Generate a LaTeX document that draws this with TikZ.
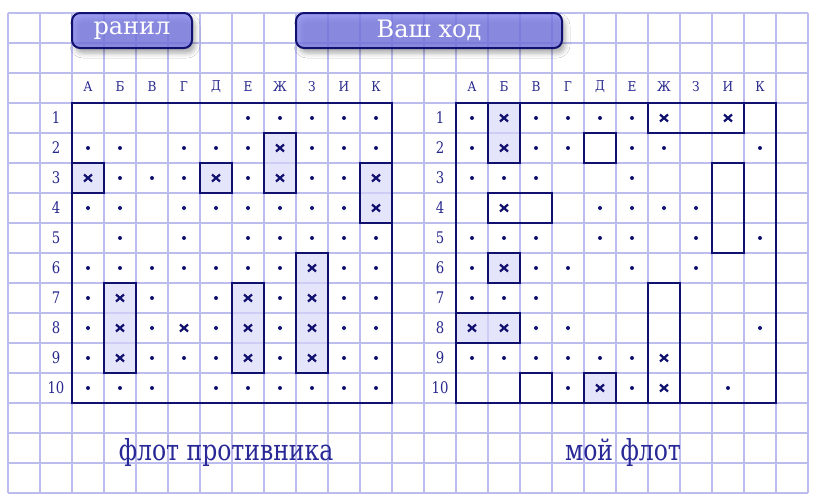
\documentclass[tikz,border=0pt]{standalone}
\usepackage{fontspec}
\setmainfont{DejaVu Serif Condensed}
\newfontfamily\btnfont{DejaVu Serif}
\usetikzlibrary{shadows.blur}
\definecolor{gridc}{RGB}{188,188,238}
\definecolor{navy}{RGB}{16,16,110}
\definecolor{labc}{RGB}{40,40,140}
\definecolor{capc}{RGB}{40,40,150}
\definecolor{shade}{RGB}{214,214,248}
\definecolor{btn}{RGB}{125,125,240}
\tikzset{
 gridline/.style={gridc, line width=2pt},
 boardframe/.style={navy, line width=2.4pt},
 shipbox/.style={navy, line width=2.4pt},
 sunk/.style={shipbox, fill=shade, fill opacity=0.65},
 crossline/.style={navy, line width=2.2pt},
 hdr/.style={text=labc, font=\fontsize{13.5}{13.5}\selectfont},
 rownum/.style={text=labc, font=\fontsize{16}{16}\selectfont},
 btnbox/.style={rounded corners=8pt, draw=navy, line width=2pt, fill=btn, fill opacity=0.75, text opacity=1, text=white, font=\btnfont\fontsize{24}{24}\selectfont, minimum height=35pt, inner sep=0pt, blur shadow={shadow xshift=3pt, shadow yshift=-5pt, shadow blur radius=5pt, shadow opacity=45}},
 caption/.style={text=capc, font=\fontsize{29}{29}\selectfont},
}
% #1 x offset, #2 row, #3 list (0 empty, 1 dot, 2 cross)
\newcommand\bsmarks[3]{%
 \foreach \s [count=\c] in {#3}{%
   \ifnum\s=1 \fill[navy] ({#1+32*\c-16},{88+30*#2}) circle (2pt);\fi
   \ifnum\s=2 \draw[crossline] ({#1+32*\c-20},{88+30*#2-3.5}) -- ++(8,7) ({#1+32*\c-20},{88+30*#2+3.5}) -- ++(8,-7);\fi
 }}
% #1 style, #2 x offset, #3 c1, #4 r1, #5 c2, #6 r2
\newcommand\bsship[6]{%
 \draw[#1] ({#2+32*(#3-1)},{73+30*#4}) rectangle ({#2+32*#5},{103+30*#6});}
\begin{document}
\begin{tikzpicture}[x=1pt,y=-1pt]
\useasboundingbox (0,0) rectangle (819,498);
\fill[white] (0,0) rectangle (819,498);
% grid
\foreach \i in {0,...,25} \draw[gridline] ({8+32*\i},13) -- ({8+32*\i},493);
\foreach \j in {0,...,16} \draw[gridline] (8,{13+30*\j}) -- (808,{13+30*\j});
% buttons
\node[btnbox, minimum width=120pt] (wound) at (132,30.5) {\raisebox{-1.5pt}{ранил}};
\node[btnbox, minimum width=266pt] (turn) at (429,30.5) {\raisebox{-1.5pt}{Ваш ход}};
% left board ships (sunk)
\bsship{sunk}{72}{1}{3}{1}{3}
\bsship{sunk}{72}{5}{3}{5}{3}
\bsship{sunk}{72}{7}{2}{7}{3}
\bsship{sunk}{72}{10}{3}{10}{4}
\bsship{sunk}{72}{2}{7}{2}{9}
\bsship{sunk}{72}{6}{7}{6}{9}
\bsship{sunk}{72}{8}{6}{8}{9}
% right board ships
\bsship{sunk}{456}{2}{1}{2}{2}
\bsship{sunk}{456}{2}{6}{2}{6}
\bsship{sunk}{456}{1}{8}{2}{8}
\bsship{sunk}{456}{5}{10}{5}{10}
\bsship{shipbox}{456}{7}{1}{9}{1}
\bsship{shipbox}{456}{5}{2}{5}{2}
\bsship{shipbox}{456}{9}{3}{9}{5}
\bsship{shipbox}{456}{2}{4}{3}{4}
\bsship{shipbox}{456}{7}{7}{7}{10}
\bsship{shipbox}{456}{3}{10}{3}{10}
% frames
\draw[boardframe] (72,103) rectangle (392,403);
\draw[boardframe] (456,103) rectangle (776,403);
% left marks
\bsmarks{72}{1}{0,0,0,0,0,1,1,1,1,1}
\bsmarks{72}{2}{1,1,0,1,1,1,2,1,1,1}
\bsmarks{72}{3}{2,1,1,1,2,1,2,1,1,2}
\bsmarks{72}{4}{1,1,0,1,1,1,1,1,1,2}
\bsmarks{72}{5}{0,1,0,1,0,1,1,1,1,1}
\bsmarks{72}{6}{1,1,1,1,1,1,1,2,1,1}
\bsmarks{72}{7}{1,2,1,0,1,2,1,2,1,1}
\bsmarks{72}{8}{1,2,1,2,1,2,1,2,1,1}
\bsmarks{72}{9}{1,2,1,1,1,2,1,2,1,1}
\bsmarks{72}{10}{1,1,1,0,1,1,1,1,1,1}
% right marks
\bsmarks{456}{1}{1,2,1,1,1,1,2,0,2,0}
\bsmarks{456}{2}{1,2,1,1,0,1,1,0,0,1}
\bsmarks{456}{3}{1,1,1,0,0,1,0,0,0,0}
\bsmarks{456}{4}{0,2,0,0,1,1,1,1,0,0}
\bsmarks{456}{5}{1,1,1,0,1,1,0,1,0,1}
\bsmarks{456}{6}{1,2,1,1,0,1,0,1,0,0}
\bsmarks{456}{7}{1,1,1,0,0,0,0,0,0,0}
\bsmarks{456}{8}{2,2,1,1,0,0,0,0,0,1}
\bsmarks{456}{9}{1,1,1,1,1,1,2,0,0,0}
\bsmarks{456}{10}{0,0,0,1,2,1,2,0,1,0}
% headers
\foreach \l [count=\c] in {А,Б,В,Г,Д,Е,Ж,З,И,К}{
  \node[hdr] (lh\c) at ({72+32*\c-16},87) {\l};
  \node[hdr] (rh\c) at ({456+32*\c-16},87) {\l};
}
\foreach \r in {1,...,10}{
  \node[rownum] (ln\r) at (56,{88+30*\r}) {\scalebox{0.92}[1]{\r}};
  \node[rownum] (rn\r) at (440,{88+30*\r}) {\scalebox{0.92}[1]{\r}};
}
% captions
\node[caption] (enemy) at (226,452) {\scalebox{0.9}[1]{флот противника}};
\node[caption] (mine) at (623,452) {\scalebox{0.9}[1]{мой флот}};
\end{tikzpicture}
\end{document}
